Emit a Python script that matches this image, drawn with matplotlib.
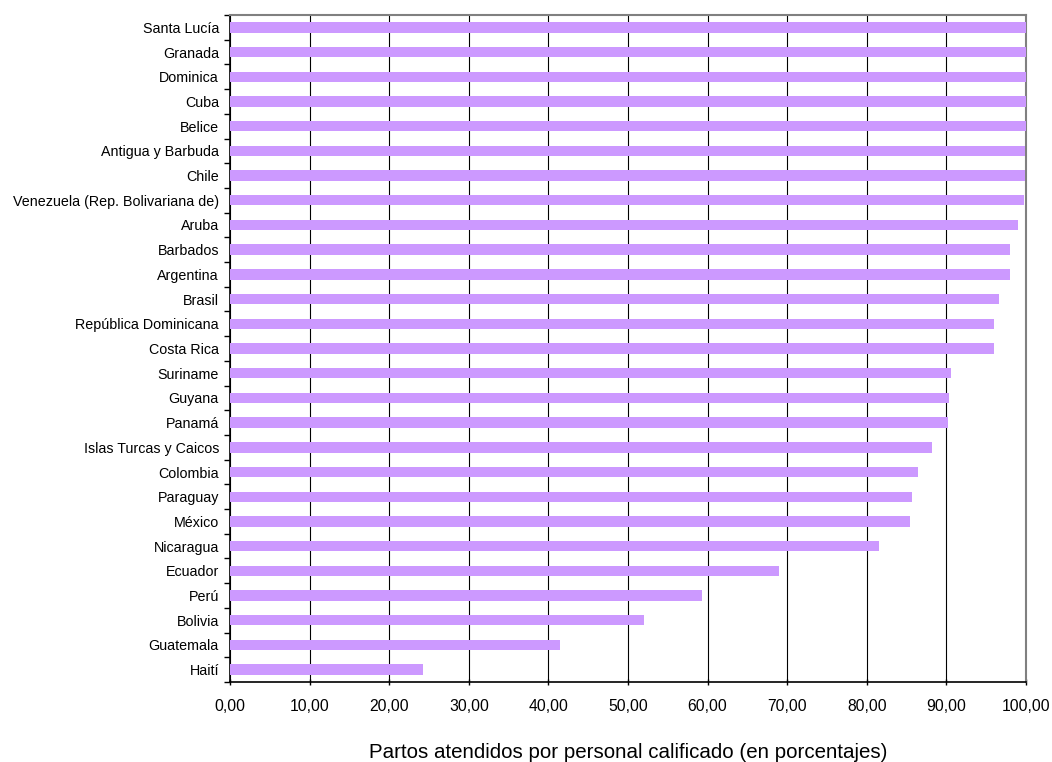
import matplotlib
matplotlib.use("Agg")
import matplotlib.pyplot as plt
import numpy as np
from matplotlib.ticker import FuncFormatter

plt.rcParams['font.family'] = ['Liberation Sans', 'DejaVu Sans']

countries = ["Santa Lucía", "Granada", "Dominica", "Cuba", "Belice", "Antigua y Barbuda",
             "Chile", "Venezuela (Rep. Bolivariana de)", "Aruba", "Barbados", "Argentina",
             "Brasil", "República Dominicana", "Costa Rica", "Suriname", "Guyana", "Panamá",
             "Islas Turcas y Caicos", "Colombia", "Paraguay", "México", "Nicaragua",
             "Ecuador", "Perú", "Bolivia", "Guatemala", "Haití"]
values = [100.0, 100.0, 100.0, 100.0, 100.0, 99.9, 99.9, 99.7, 99.0, 98.0, 98.0,
          96.6, 96.0, 96.0, 90.6, 90.3, 90.2, 88.2, 86.4, 85.7, 85.4, 81.5,
          69.0, 59.3, 52.0, 41.5, 24.2]
xticks = [0, 10, 20, 30, 40, 50, 60, 70, 80, 90, 100]
xlabel = "Partos atendidos por personal calificado (en porcentajes)"

fig = plt.figure(figsize=(10.52, 7.62), dpi=100)
ax = fig.add_axes([230/1052, 1 - 682/762, 796/1052, 667/762])

n = len(countries)
y = np.arange(n)[::-1]
ax.barh(y, values, height=0.42, color="#CC99FF", zorder=3)

ax.set_xlim(0, 100)
ax.set_ylim(-0.5, n - 0.5)
ax.set_xticks(xticks)
ax.xaxis.set_major_formatter(FuncFormatter(lambda v, p: f"{v:.2f}".replace(".", ",")))
ax.grid(axis="x", color="black", linewidth=0.8, zorder=1)

ax.set_yticks(y)
ax.set_yticklabels(countries, fontsize=10.3)
ax.tick_params(axis="y", which="major", length=0, pad=8)
ax.set_yticks(np.arange(n + 1) - 0.5, minor=True)
ax.tick_params(axis="y", which="minor", length=4, width=1, color="black", direction="out")
ax.tick_params(axis="x", which="major", length=4, width=1, direction="inout", labelsize=11.3, pad=10)

for s in ["left", "bottom"]:
    ax.spines[s].set_color("black")
    ax.spines[s].set_linewidth(1.2)
for s in ["top", "right"]:
    ax.spines[s].set_color("#808080")
    ax.spines[s].set_linewidth(1.5)

fig.text((230 + 1026) / 2 / 1052, 1 - 752/762, xlabel, fontsize=14.8, ha="center", va="center")

fig.savefig("out.png", dpi=100)
